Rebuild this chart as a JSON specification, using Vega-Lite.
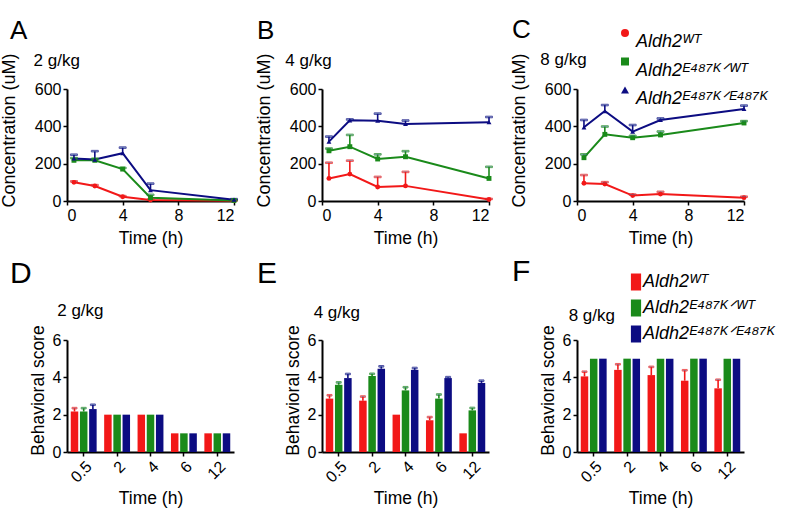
{
  "$schema": "https://vega.github.io/schema/vega-lite/v6.json",
  "autosize": "none",
  "padding": {"left": 67, "top": 89, "right": 729, "bottom": 421},
  "background": "white",
  "config": {
    "font": "Liberation Sans",
    "view": {"stroke": null},
    "axis": {"domainColor": "black", "domainWidth": 2, "tickColor": "black", "tickWidth": 1.5, "tickSize": 4, "labelFontSize": 16, "labelColor": "black", "titleFontSize": 17.5, "titleFontWeight": "normal", "titleColor": "black", "grid": false, "labelPadding": 2},
    "title": {"anchor": "start", "frame": "group", "fontSize": 26, "fontWeight": "normal", "subtitleFontSize": 17, "color": "black", "subtitleColor": "black"},
    "legend": {"labelFontSize": 18, "labelFontStyle": "italic", "labelColor": "black", "labelLimit": 400, "title": null}
  },
  "datasets": {
    "conc": [
      {"dose": 2, "time": 0.5, "geno": "Aldh2ᵂᵀ", "mean": 100, "hi": 105},
      {"dose": 2, "time": 2, "geno": "Aldh2ᵂᵀ", "mean": 80, "hi": 85},
      {"dose": 2, "time": 4, "geno": "Aldh2ᵂᵀ", "mean": 23, "hi": 26},
      {"dose": 2, "time": 6, "geno": "Aldh2ᵂᵀ", "mean": 5, "hi": 7},
      {"dose": 2, "time": 12, "geno": "Aldh2ᵂᵀ", "mean": 2, "hi": 3},
      {"dose": 2, "time": 0.5, "geno": "Aldh2ᴱ⁴⁸⁷ᴷᐟᵂᵀ", "mean": 218, "hi": 230},
      {"dose": 2, "time": 2, "geno": "Aldh2ᴱ⁴⁸⁷ᴷᐟᵂᵀ", "mean": 218, "hi": 226},
      {"dose": 2, "time": 4, "geno": "Aldh2ᴱ⁴⁸⁷ᴷᐟᵂᵀ", "mean": 171, "hi": 177},
      {"dose": 2, "time": 6, "geno": "Aldh2ᴱ⁴⁸⁷ᴷᐟᵂᵀ", "mean": 18, "hi": 33},
      {"dose": 2, "time": 12, "geno": "Aldh2ᴱ⁴⁸⁷ᴷᐟᵂᵀ", "mean": 3, "hi": 4},
      {"dose": 2, "time": 0.5, "geno": "Aldh2ᴱ⁴⁸⁷ᴷᐟᴱ⁴⁸⁷ᴷ", "mean": 228, "hi": 248},
      {"dose": 2, "time": 2, "geno": "Aldh2ᴱ⁴⁸⁷ᴷᐟᴱ⁴⁸⁷ᴷ", "mean": 222, "hi": 267},
      {"dose": 2, "time": 4, "geno": "Aldh2ᴱ⁴⁸⁷ᴷᐟᴱ⁴⁸⁷ᴷ", "mean": 256, "hi": 286},
      {"dose": 2, "time": 6, "geno": "Aldh2ᴱ⁴⁸⁷ᴷᐟᴱ⁴⁸⁷ᴷ", "mean": 58, "hi": 93},
      {"dose": 2, "time": 12, "geno": "Aldh2ᴱ⁴⁸⁷ᴷᐟᴱ⁴⁸⁷ᴷ", "mean": 7, "hi": 10},
      {"dose": 4, "time": 0.5, "geno": "Aldh2ᵂᵀ", "mean": 121, "hi": 205},
      {"dose": 4, "time": 2, "geno": "Aldh2ᵂᵀ", "mean": 144, "hi": 216},
      {"dose": 4, "time": 4, "geno": "Aldh2ᵂᵀ", "mean": 75, "hi": 129},
      {"dose": 4, "time": 6, "geno": "Aldh2ᵂᵀ", "mean": 81, "hi": 156},
      {"dose": 4, "time": 12, "geno": "Aldh2ᵂᵀ", "mean": 8, "hi": 11},
      {"dose": 4, "time": 0.5, "geno": "Aldh2ᴱ⁴⁸⁷ᴷᐟᵂᵀ", "mean": 269, "hi": 281},
      {"dose": 4, "time": 2, "geno": "Aldh2ᴱ⁴⁸⁷ᴷᐟᵂᵀ", "mean": 291, "hi": 354},
      {"dose": 4, "time": 4, "geno": "Aldh2ᴱ⁴⁸⁷ᴷᐟᵂᵀ", "mean": 225, "hi": 250},
      {"dose": 4, "time": 6, "geno": "Aldh2ᴱ⁴⁸⁷ᴷᐟᵂᵀ", "mean": 237, "hi": 267},
      {"dose": 4, "time": 12, "geno": "Aldh2ᴱ⁴⁸⁷ᴷᐟᵂᵀ", "mean": 121, "hi": 183},
      {"dose": 4, "time": 0.5, "geno": "Aldh2ᴱ⁴⁸⁷ᴷᐟᴱ⁴⁸⁷ᴷ", "mean": 318, "hi": 345},
      {"dose": 4, "time": 2, "geno": "Aldh2ᴱ⁴⁸⁷ᴷᐟᴱ⁴⁸⁷ᴷ", "mean": 432, "hi": 437},
      {"dose": 4, "time": 4, "geno": "Aldh2ᴱ⁴⁸⁷ᴷᐟᴱ⁴⁸⁷ᴷ", "mean": 430, "hi": 468},
      {"dose": 4, "time": 6, "geno": "Aldh2ᴱ⁴⁸⁷ᴷᐟᴱ⁴⁸⁷ᴷ", "mean": 413, "hi": 431},
      {"dose": 4, "time": 12, "geno": "Aldh2ᴱ⁴⁸⁷ᴷᐟᴱ⁴⁸⁷ᴷ", "mean": 422, "hi": 450},
      {"dose": 8, "time": 0.5, "geno": "Aldh2ᵂᵀ", "mean": 95, "hi": 139},
      {"dose": 8, "time": 2, "geno": "Aldh2ᵂᵀ", "mean": 91, "hi": 101},
      {"dose": 8, "time": 4, "geno": "Aldh2ᵂᵀ", "mean": 29, "hi": 34},
      {"dose": 8, "time": 6, "geno": "Aldh2ᵂᵀ", "mean": 37, "hi": 49},
      {"dose": 8, "time": 12, "geno": "Aldh2ᵂᵀ", "mean": 18, "hi": 23},
      {"dose": 8, "time": 0.5, "geno": "Aldh2ᴱ⁴⁸⁷ᴷᐟᵂᵀ", "mean": 232, "hi": 250},
      {"dose": 8, "time": 2, "geno": "Aldh2ᴱ⁴⁸⁷ᴷᐟᵂᵀ", "mean": 357, "hi": 399},
      {"dose": 8, "time": 4, "geno": "Aldh2ᴱ⁴⁸⁷ᴷᐟᵂᵀ", "mean": 339, "hi": 349},
      {"dose": 8, "time": 6, "geno": "Aldh2ᴱ⁴⁸⁷ᴷᐟᵂᵀ", "mean": 354, "hi": 372},
      {"dose": 8, "time": 12, "geno": "Aldh2ᴱ⁴⁸⁷ᴷᐟᵂᵀ", "mean": 418, "hi": 428},
      {"dose": 8, "time": 0.5, "geno": "Aldh2ᴱ⁴⁸⁷ᴷᐟᴱ⁴⁸⁷ᴷ", "mean": 395, "hi": 434},
      {"dose": 8, "time": 2, "geno": "Aldh2ᴱ⁴⁸⁷ᴷᐟᴱ⁴⁸⁷ᴷ", "mean": 482, "hi": 514},
      {"dose": 8, "time": 4, "geno": "Aldh2ᴱ⁴⁸⁷ᴷᐟᴱ⁴⁸⁷ᴷ", "mean": 372, "hi": 407},
      {"dose": 8, "time": 6, "geno": "Aldh2ᴱ⁴⁸⁷ᴷᐟᴱ⁴⁸⁷ᴷ", "mean": 434, "hi": 442},
      {"dose": 8, "time": 12, "geno": "Aldh2ᴱ⁴⁸⁷ᴷᐟᴱ⁴⁸⁷ᴷ", "mean": 493, "hi": 511}
    ],
    "beh": [
      {"dose": 2, "time": "0.5", "geno": "Aldh2ᵂᵀ", "mean": 2.17, "hi": 2.35},
      {"dose": 2, "time": "2", "geno": "Aldh2ᵂᵀ", "mean": 2, "hi": 2},
      {"dose": 2, "time": "4", "geno": "Aldh2ᵂᵀ", "mean": 2, "hi": 2},
      {"dose": 2, "time": "6", "geno": "Aldh2ᵂᵀ", "mean": 1, "hi": 1},
      {"dose": 2, "time": "12", "geno": "Aldh2ᵂᵀ", "mean": 1, "hi": 1},
      {"dose": 2, "time": "0.5", "geno": "Aldh2ᴱ⁴⁸⁷ᴷᐟᵂᵀ", "mean": 2.17, "hi": 2.35},
      {"dose": 2, "time": "2", "geno": "Aldh2ᴱ⁴⁸⁷ᴷᐟᵂᵀ", "mean": 2, "hi": 2},
      {"dose": 2, "time": "4", "geno": "Aldh2ᴱ⁴⁸⁷ᴷᐟᵂᵀ", "mean": 2, "hi": 2},
      {"dose": 2, "time": "6", "geno": "Aldh2ᴱ⁴⁸⁷ᴷᐟᵂᵀ", "mean": 1, "hi": 1},
      {"dose": 2, "time": "12", "geno": "Aldh2ᴱ⁴⁸⁷ᴷᐟᵂᵀ", "mean": 1, "hi": 1},
      {"dose": 2, "time": "0.5", "geno": "Aldh2ᴱ⁴⁸⁷ᴷᐟᴱ⁴⁸⁷ᴷ", "mean": 2.3, "hi": 2.53},
      {"dose": 2, "time": "2", "geno": "Aldh2ᴱ⁴⁸⁷ᴷᐟᴱ⁴⁸⁷ᴷ", "mean": 2, "hi": 2},
      {"dose": 2, "time": "4", "geno": "Aldh2ᴱ⁴⁸⁷ᴷᐟᴱ⁴⁸⁷ᴷ", "mean": 2, "hi": 2},
      {"dose": 2, "time": "6", "geno": "Aldh2ᴱ⁴⁸⁷ᴷᐟᴱ⁴⁸⁷ᴷ", "mean": 1, "hi": 1},
      {"dose": 2, "time": "12", "geno": "Aldh2ᴱ⁴⁸⁷ᴷᐟᴱ⁴⁸⁷ᴷ", "mean": 1, "hi": 1},
      {"dose": 4, "time": "0.5", "geno": "Aldh2ᵂᵀ", "mean": 2.86, "hi": 3.04},
      {"dose": 4, "time": "2", "geno": "Aldh2ᵂᵀ", "mean": 2.75, "hi": 2.97},
      {"dose": 4, "time": "4", "geno": "Aldh2ᵂᵀ", "mean": 2, "hi": 2},
      {"dose": 4, "time": "6", "geno": "Aldh2ᵂᵀ", "mean": 1.7, "hi": 1.87},
      {"dose": 4, "time": "12", "geno": "Aldh2ᵂᵀ", "mean": 1, "hi": 1},
      {"dose": 4, "time": "0.5", "geno": "Aldh2ᴱ⁴⁸⁷ᴷᐟᵂᵀ", "mean": 3.6, "hi": 3.73},
      {"dose": 4, "time": "2", "geno": "Aldh2ᴱ⁴⁸⁷ᴷᐟᵂᵀ", "mean": 4.07, "hi": 4.19},
      {"dose": 4, "time": "4", "geno": "Aldh2ᴱ⁴⁸⁷ᴷᐟᵂᵀ", "mean": 3.3, "hi": 3.47},
      {"dose": 4, "time": "6", "geno": "Aldh2ᴱ⁴⁸⁷ᴷᐟᵂᵀ", "mean": 2.86, "hi": 3.08},
      {"dose": 4, "time": "12", "geno": "Aldh2ᴱ⁴⁸⁷ᴷᐟᵂᵀ", "mean": 2.23, "hi": 2.36},
      {"dose": 4, "time": "0.5", "geno": "Aldh2ᴱ⁴⁸⁷ᴷᐟᴱ⁴⁸⁷ᴷ", "mean": 3.96, "hi": 4.18},
      {"dose": 4, "time": "2", "geno": "Aldh2ᴱ⁴⁸⁷ᴷᐟᴱ⁴⁸⁷ᴷ", "mean": 4.46, "hi": 4.59},
      {"dose": 4, "time": "4", "geno": "Aldh2ᴱ⁴⁸⁷ᴷᐟᴱ⁴⁸⁷ᴷ", "mean": 4.4, "hi": 4.5},
      {"dose": 4, "time": "6", "geno": "Aldh2ᴱ⁴⁸⁷ᴷᐟᴱ⁴⁸⁷ᴷ", "mean": 3.96, "hi": 4.01},
      {"dose": 4, "time": "12", "geno": "Aldh2ᴱ⁴⁸⁷ᴷᐟᴱ⁴⁸⁷ᴷ", "mean": 3.7, "hi": 3.82},
      {"dose": 8, "time": "0.5", "geno": "Aldh2ᵂᵀ", "mean": 4.05, "hi": 4.3},
      {"dose": 8, "time": "2", "geno": "Aldh2ᵂᵀ", "mean": 4.4, "hi": 4.7},
      {"dose": 8, "time": "4", "geno": "Aldh2ᵂᵀ", "mean": 4.12, "hi": 4.56},
      {"dose": 8, "time": "6", "geno": "Aldh2ᵂᵀ", "mean": 3.82, "hi": 4.38},
      {"dose": 8, "time": "12", "geno": "Aldh2ᵂᵀ", "mean": 3.41, "hi": 3.87},
      {"dose": 8, "time": "0.5", "geno": "Aldh2ᴱ⁴⁸⁷ᴷᐟᵂᵀ", "mean": 5, "hi": 5},
      {"dose": 8, "time": "2", "geno": "Aldh2ᴱ⁴⁸⁷ᴷᐟᵂᵀ", "mean": 5, "hi": 5},
      {"dose": 8, "time": "4", "geno": "Aldh2ᴱ⁴⁸⁷ᴷᐟᵂᵀ", "mean": 5, "hi": 5},
      {"dose": 8, "time": "6", "geno": "Aldh2ᴱ⁴⁸⁷ᴷᐟᵂᵀ", "mean": 5, "hi": 5},
      {"dose": 8, "time": "12", "geno": "Aldh2ᴱ⁴⁸⁷ᴷᐟᵂᵀ", "mean": 5, "hi": 5},
      {"dose": 8, "time": "0.5", "geno": "Aldh2ᴱ⁴⁸⁷ᴷᐟᴱ⁴⁸⁷ᴷ", "mean": 5, "hi": 5},
      {"dose": 8, "time": "2", "geno": "Aldh2ᴱ⁴⁸⁷ᴷᐟᴱ⁴⁸⁷ᴷ", "mean": 5, "hi": 5},
      {"dose": 8, "time": "4", "geno": "Aldh2ᴱ⁴⁸⁷ᴷᐟᴱ⁴⁸⁷ᴷ", "mean": 5, "hi": 5},
      {"dose": 8, "time": "6", "geno": "Aldh2ᴱ⁴⁸⁷ᴷᐟᴱ⁴⁸⁷ᴷ", "mean": 5, "hi": 5},
      {"dose": 8, "time": "12", "geno": "Aldh2ᴱ⁴⁸⁷ᴷᐟᴱ⁴⁸⁷ᴷ", "mean": 5, "hi": 5}
    ]
  },
  "columns": 3,
  "spacing": {"row": 139, "column": 88},
  "bounds": "flush",
  "resolve": {"scale": {"color": "independent", "stroke": "independent", "shape": "independent"}},
  "concat": [
    {
      "width": 167, "height": 112,
      "title": {"text": "A", "subtitle": "\u200b\u00a0\u00a0\u00a0\u00a0\u00a02 g/kg", "dx": -57, "dy": 20, "offset": 4, "subtitlePadding": 8.6},
      "data": {"name": "conc"},
      "transform": [{"filter": "datum.dose == 2"}],
      "encoding": {
        "x": {"field": "time", "type": "quantitative", "title": "Time (h)", "scale": {"domain": [0, 12], "nice": false}, "axis": {"values": [0, 4, 8, 12], "titlePadding": 6}},
        "y": {"field": "mean", "type": "quantitative", "title": "Concentration (uM)", "scale": {"domain": [0, 600]}, "axis": {"values": [0, 200, 400, 600], "titlePadding": 16, "titleFontSize": 18, "titleY": 41}}
      },
      "layer": [
        {"mark": {"type": "line", "strokeWidth": 2}, "encoding": {"stroke": {"field": "geno", "type": "nominal", "legend": null, "scale": {"domain": ["Aldh2ᵂᵀ", "Aldh2ᴱ⁴⁸⁷ᴷᐟᵂᵀ", "Aldh2ᴱ⁴⁸⁷ᴷᐟᴱ⁴⁸⁷ᴷ"], "range": ["#f21818", "#1a8a1a", "#0c0c82"]}}}},
        {"transform": [{"filter": "datum.hi > datum.mean"}], "mark": {"type": "rule", "strokeWidth": 1.6}, "encoding": {"y2": {"field": "hi"}, "stroke": {"field": "geno", "type": "nominal", "legend": null, "scale": {"domain": ["Aldh2ᵂᵀ", "Aldh2ᴱ⁴⁸⁷ᴷᐟᵂᵀ", "Aldh2ᴱ⁴⁸⁷ᴷᐟᴱ⁴⁸⁷ᴷ"], "range": ["#f21818", "#1a8a1a", "#0c0c82"]}}}},
        {"transform": [{"filter": "datum.hi > datum.mean"}], "mark": {"type": "tick", "orient": "horizontal", "size": 7, "thickness": 1.6}, "encoding": {"y": {"field": "hi", "type": "quantitative", "title": "Concentration (uM)"}, "stroke": {"field": "geno", "type": "nominal", "legend": null, "scale": {"domain": ["Aldh2ᵂᵀ", "Aldh2ᴱ⁴⁸⁷ᴷᐟᵂᵀ", "Aldh2ᴱ⁴⁸⁷ᴷᐟᴱ⁴⁸⁷ᴷ"], "range": ["#f21818", "#1a8a1a", "#0c0c82"]}}}},
        {"mark": {"type": "point", "filled": true, "size": 24, "opacity": 1}, "encoding": {
          "color": {"field": "geno", "type": "nominal", "legend": null, "scale": {"domain": ["Aldh2ᵂᵀ", "Aldh2ᴱ⁴⁸⁷ᴷᐟᵂᵀ", "Aldh2ᴱ⁴⁸⁷ᴷᐟᴱ⁴⁸⁷ᴷ"], "range": ["#f21818", "#1a8a1a", "#0c0c82"]}},
          "shape": {"field": "geno", "type": "nominal", "legend": null, "scale": {"domain": ["Aldh2ᵂᵀ", "Aldh2ᴱ⁴⁸⁷ᴷᐟᵂᵀ", "Aldh2ᴱ⁴⁸⁷ᴷᐟᴱ⁴⁸⁷ᴷ"], "range": ["circle", "square", "triangle-up"]}}}}
      ]
    },
    {
      "width": 167, "height": 112,
      "title": {"text": "B", "subtitle": "\u200b\u00a0\u00a0\u00a0\u00a0\u00a0\u00a04 g/kg", "dx": -65, "dy": 20, "offset": 4, "subtitlePadding": 8.6},
      "data": {"name": "conc"},
      "transform": [{"filter": "datum.dose == 4"}],
      "encoding": {
        "x": {"field": "time", "type": "quantitative", "title": "Time (h)", "scale": {"domain": [0, 12], "nice": false}, "axis": {"values": [0, 4, 8, 12], "titlePadding": 6}},
        "y": {"field": "mean", "type": "quantitative", "title": "Concentration (uM)", "scale": {"domain": [0, 600]}, "axis": {"values": [0, 200, 400, 600], "titlePadding": 16, "titleFontSize": 18, "titleY": 41}}
      },
      "layer": [
        {"mark": {"type": "line", "strokeWidth": 2}, "encoding": {"stroke": {"field": "geno", "type": "nominal", "legend": null, "scale": {"domain": ["Aldh2ᵂᵀ", "Aldh2ᴱ⁴⁸⁷ᴷᐟᵂᵀ", "Aldh2ᴱ⁴⁸⁷ᴷᐟᴱ⁴⁸⁷ᴷ"], "range": ["#f21818", "#1a8a1a", "#0c0c82"]}}}},
        {"transform": [{"filter": "datum.hi > datum.mean"}], "mark": {"type": "rule", "strokeWidth": 1.6}, "encoding": {"y2": {"field": "hi"}, "stroke": {"field": "geno", "type": "nominal", "legend": null, "scale": {"domain": ["Aldh2ᵂᵀ", "Aldh2ᴱ⁴⁸⁷ᴷᐟᵂᵀ", "Aldh2ᴱ⁴⁸⁷ᴷᐟᴱ⁴⁸⁷ᴷ"], "range": ["#f21818", "#1a8a1a", "#0c0c82"]}}}},
        {"transform": [{"filter": "datum.hi > datum.mean"}], "mark": {"type": "tick", "orient": "horizontal", "size": 7, "thickness": 1.6}, "encoding": {"y": {"field": "hi", "type": "quantitative", "title": "Concentration (uM)"}, "stroke": {"field": "geno", "type": "nominal", "legend": null, "scale": {"domain": ["Aldh2ᵂᵀ", "Aldh2ᴱ⁴⁸⁷ᴷᐟᵂᵀ", "Aldh2ᴱ⁴⁸⁷ᴷᐟᴱ⁴⁸⁷ᴷ"], "range": ["#f21818", "#1a8a1a", "#0c0c82"]}}}},
        {"mark": {"type": "point", "filled": true, "size": 24, "opacity": 1}, "encoding": {
          "color": {"field": "geno", "type": "nominal", "legend": null, "scale": {"domain": ["Aldh2ᵂᵀ", "Aldh2ᴱ⁴⁸⁷ᴷᐟᵂᵀ", "Aldh2ᴱ⁴⁸⁷ᴷᐟᴱ⁴⁸⁷ᴷ"], "range": ["#f21818", "#1a8a1a", "#0c0c82"]}},
          "shape": {"field": "geno", "type": "nominal", "legend": null, "scale": {"domain": ["Aldh2ᵂᵀ", "Aldh2ᴱ⁴⁸⁷ᴷᐟᵂᵀ", "Aldh2ᴱ⁴⁸⁷ᴷᐟᴱ⁴⁸⁷ᴷ"], "range": ["circle", "square", "triangle-up"]}}}}
      ]
    },
    {
      "width": 167, "height": 112,
      "title": {"text": "C", "subtitle": "\u200b\u00a0\u00a0\u00a0\u00a0\u00a0\u00a08 g/kg", "dx": -65, "dy": 47.5, "offset": 4, "subtitlePadding": 8.6},
      "data": {"name": "conc"},
      "transform": [{"filter": "datum.dose == 8"}],
      "encoding": {
        "x": {"field": "time", "type": "quantitative", "title": "Time (h)", "scale": {"domain": [0, 12], "nice": false}, "axis": {"values": [0, 4, 8, 12], "titlePadding": 6}},
        "y": {"field": "mean", "type": "quantitative", "title": "Concentration (uM)", "scale": {"domain": [0, 600]}, "axis": {"values": [0, 200, 400, 600], "titlePadding": 16, "titleFontSize": 18, "titleY": 41}}
      },
      "layer": [
        {"mark": {"type": "point", "filled": true, "size": 24, "opacity": 1}, "encoding": {
          "color": {"field": "geno", "type": "nominal", "scale": {"domain": ["Aldh2ᵂᵀ", "Aldh2ᴱ⁴⁸⁷ᴷᐟᵂᵀ", "Aldh2ᴱ⁴⁸⁷ᴷᐟᴱ⁴⁸⁷ᴷ"], "range": ["#f21818", "#1a8a1a", "#0c0c82"]},
            "legend": {"orient": "none", "legendX": 39, "legendY": -65, "symbolSize": 64, "symbolStrokeWidth": 0, "rowPadding": 1.5, "labelOffset": 2, "labelBaseline": "top"}},
          "shape": {"field": "geno", "type": "nominal", "legend": null, "scale": {"domain": ["Aldh2ᵂᵀ", "Aldh2ᴱ⁴⁸⁷ᴷᐟᵂᵀ", "Aldh2ᴱ⁴⁸⁷ᴷᐟᴱ⁴⁸⁷ᴷ"], "range": ["circle", "square", "triangle-up"]}}}},
        {"mark": {"type": "line", "strokeWidth": 2}, "encoding": {"stroke": {"field": "geno", "type": "nominal", "legend": null, "scale": {"domain": ["Aldh2ᵂᵀ", "Aldh2ᴱ⁴⁸⁷ᴷᐟᵂᵀ", "Aldh2ᴱ⁴⁸⁷ᴷᐟᴱ⁴⁸⁷ᴷ"], "range": ["#f21818", "#1a8a1a", "#0c0c82"]}}}},
        {"transform": [{"filter": "datum.hi > datum.mean"}], "mark": {"type": "rule", "strokeWidth": 1.6}, "encoding": {"y2": {"field": "hi"}, "stroke": {"field": "geno", "type": "nominal", "legend": null, "scale": {"domain": ["Aldh2ᵂᵀ", "Aldh2ᴱ⁴⁸⁷ᴷᐟᵂᵀ", "Aldh2ᴱ⁴⁸⁷ᴷᐟᴱ⁴⁸⁷ᴷ"], "range": ["#f21818", "#1a8a1a", "#0c0c82"]}}}},
        {"transform": [{"filter": "datum.hi > datum.mean"}], "mark": {"type": "tick", "orient": "horizontal", "size": 7, "thickness": 1.6}, "encoding": {"y": {"field": "hi", "type": "quantitative", "title": "Concentration (uM)"}, "stroke": {"field": "geno", "type": "nominal", "legend": null, "scale": {"domain": ["Aldh2ᵂᵀ", "Aldh2ᴱ⁴⁸⁷ᴷᐟᵂᵀ", "Aldh2ᴱ⁴⁸⁷ᴷᐟᴱ⁴⁸⁷ᴷ"], "range": ["#f21818", "#1a8a1a", "#0c0c82"]}}}}
      ]
    },
    {
      "width": 167, "height": 112,
      "title": {"text": "D", "subtitle": "\u200b\u00a0\u00a0\u00a0\u00a0\u00a0\u00a0\u00a0\u00a0\u00a0\u00a02 g/kg", "dx": -57, "dy": 1.8, "offset": 7.5, "subtitlePadding": 13.8, "fontSize": 30},
      "data": {"name": "beh"},
      "transform": [{"filter": "datum.dose == 2"}],
      "encoding": {
        "x": {"field": "time", "type": "ordinal", "title": "Time (h)", "scale": {"domain": ["0.5", "2", "4", "6", "12"], "paddingInner": 0.225, "paddingOuter": 0.1125}, "axis": {"labelAngle": -45, "titlePadding": 4}},
        "xOffset": {"field": "geno", "type": "nominal", "scale": {"domain": ["Aldh2ᵂᵀ", "Aldh2ᴱ⁴⁸⁷ᴷᐟᵂᵀ", "Aldh2ᴱ⁴⁸⁷ᴷᐟᴱ⁴⁸⁷ᴷ"], "paddingInner": 0.185, "paddingOuter": 0}},
        "y": {"field": "mean", "type": "quantitative", "title": "Behavioral score", "scale": {"domain": [0, 6]}, "axis": {"values": [0, 2, 4, 6], "titlePadding": 5, "titleY": 50}}
      },
      "layer": [
        {"mark": {"type": "bar"}, "encoding": {"color": {"field": "geno", "type": "nominal", "legend": null, "scale": {"domain": ["Aldh2ᵂᵀ", "Aldh2ᴱ⁴⁸⁷ᴷᐟᵂᵀ", "Aldh2ᴱ⁴⁸⁷ᴷᐟᴱ⁴⁸⁷ᴷ"], "range": ["#f21818", "#1a8a1a", "#0c0c82"]}}}},
        {"transform": [{"filter": "datum.hi > datum.mean"}], "mark": {"type": "rule", "strokeWidth": 1.6}, "encoding": {"y2": {"field": "hi"}, "stroke": {"field": "geno", "type": "nominal", "legend": null, "scale": {"domain": ["Aldh2ᵂᵀ", "Aldh2ᴱ⁴⁸⁷ᴷᐟᵂᵀ", "Aldh2ᴱ⁴⁸⁷ᴷᐟᴱ⁴⁸⁷ᴷ"], "range": ["#f21818", "#1a8a1a", "#0c0c82"]}}}},
        {"transform": [{"filter": "datum.hi > datum.mean"}], "mark": {"type": "tick", "orient": "horizontal", "size": 5, "thickness": 1.6}, "encoding": {"y": {"field": "hi", "type": "quantitative", "title": "Behavioral score"}, "stroke": {"field": "geno", "type": "nominal", "legend": null, "scale": {"domain": ["Aldh2ᵂᵀ", "Aldh2ᴱ⁴⁸⁷ᴷᐟᵂᵀ", "Aldh2ᴱ⁴⁸⁷ᴷᐟᴱ⁴⁸⁷ᴷ"], "range": ["#f21818", "#1a8a1a", "#0c0c82"]}}}}
      ]
    },
    {
      "width": 167, "height": 112,
      "title": {"text": "E", "subtitle": "\u200b\u00a0\u00a0\u00a0\u00a0\u00a0\u00a0\u00a0\u00a0\u00a0\u00a0\u00a0\u00a04 g/kg", "dx": -65, "dy": 1.8, "offset": 5.5, "subtitlePadding": 15.8, "fontSize": 30},
      "data": {"name": "beh"},
      "transform": [{"filter": "datum.dose == 4"}],
      "encoding": {
        "x": {"field": "time", "type": "ordinal", "title": "Time (h)", "scale": {"domain": ["0.5", "2", "4", "6", "12"], "paddingInner": 0.225, "paddingOuter": 0.1125}, "axis": {"labelAngle": -45, "titlePadding": 4}},
        "xOffset": {"field": "geno", "type": "nominal", "scale": {"domain": ["Aldh2ᵂᵀ", "Aldh2ᴱ⁴⁸⁷ᴷᐟᵂᵀ", "Aldh2ᴱ⁴⁸⁷ᴷᐟᴱ⁴⁸⁷ᴷ"], "paddingInner": 0.185, "paddingOuter": 0}},
        "y": {"field": "mean", "type": "quantitative", "title": "Behavioral score", "scale": {"domain": [0, 6]}, "axis": {"values": [0, 2, 4, 6], "titlePadding": 5, "titleY": 50}}
      },
      "layer": [
        {"mark": {"type": "bar"}, "encoding": {"color": {"field": "geno", "type": "nominal", "legend": null, "scale": {"domain": ["Aldh2ᵂᵀ", "Aldh2ᴱ⁴⁸⁷ᴷᐟᵂᵀ", "Aldh2ᴱ⁴⁸⁷ᴷᐟᴱ⁴⁸⁷ᴷ"], "range": ["#f21818", "#1a8a1a", "#0c0c82"]}}}},
        {"transform": [{"filter": "datum.hi > datum.mean"}], "mark": {"type": "rule", "strokeWidth": 1.6}, "encoding": {"y2": {"field": "hi"}, "stroke": {"field": "geno", "type": "nominal", "legend": null, "scale": {"domain": ["Aldh2ᵂᵀ", "Aldh2ᴱ⁴⁸⁷ᴷᐟᵂᵀ", "Aldh2ᴱ⁴⁸⁷ᴷᐟᴱ⁴⁸⁷ᴷ"], "range": ["#f21818", "#1a8a1a", "#0c0c82"]}}}},
        {"transform": [{"filter": "datum.hi > datum.mean"}], "mark": {"type": "tick", "orient": "horizontal", "size": 5, "thickness": 1.6}, "encoding": {"y": {"field": "hi", "type": "quantitative", "title": "Behavioral score"}, "stroke": {"field": "geno", "type": "nominal", "legend": null, "scale": {"domain": ["Aldh2ᵂᵀ", "Aldh2ᴱ⁴⁸⁷ᴷᐟᵂᵀ", "Aldh2ᴱ⁴⁸⁷ᴷᐟᴱ⁴⁸⁷ᴷ"], "range": ["#f21818", "#1a8a1a", "#0c0c82"]}}}}
      ]
    },
    {
      "width": 167, "height": 112,
      "title": {"text": "F", "subtitle": "\u200b\u00a0\u00a0\u00a0\u00a0\u00a0\u00a0\u00a0\u00a0\u00a0\u00a0\u00a0\u00a08 g/kg", "dx": -65, "dy": 53.6, "offset": 2.5, "subtitlePadding": 20.8, "fontSize": 30},
      "data": {"name": "beh"},
      "transform": [{"filter": "datum.dose == 8"}],
      "encoding": {
        "x": {"field": "time", "type": "ordinal", "title": "Time (h)", "scale": {"domain": ["0.5", "2", "4", "6", "12"], "paddingInner": 0.225, "paddingOuter": 0.1125}, "axis": {"labelAngle": -45, "titlePadding": 4}},
        "xOffset": {"field": "geno", "type": "nominal", "scale": {"domain": ["Aldh2ᵂᵀ", "Aldh2ᴱ⁴⁸⁷ᴷᐟᵂᵀ", "Aldh2ᴱ⁴⁸⁷ᴷᐟᴱ⁴⁸⁷ᴷ"], "paddingInner": 0.185, "paddingOuter": 0}},
        "y": {"field": "mean", "type": "quantitative", "title": "Behavioral score", "scale": {"domain": [0, 6]}, "axis": {"values": [0, 2, 4, 6], "titlePadding": 5, "titleY": 50}}
      },
      "layer": [
        {"mark": {"type": "bar"}, "encoding": {"color": {"field": "geno", "type": "nominal", "scale": {"domain": ["Aldh2ᵂᵀ", "Aldh2ᴱ⁴⁸⁷ᴷᐟᵂᵀ", "Aldh2ᴱ⁴⁸⁷ᴷᐟᴱ⁴⁸⁷ᴷ"], "range": ["#f21818", "#1a8a1a", "#0c0c82"]},
          "legend": {"orient": "none", "legendX": 50, "legendY": -67, "symbolType": "M-0.6,-1H0.6V1H-0.6Z", "symbolSize": 289, "symbolStrokeWidth": 0, "rowPadding": 8, "labelOffset": -2, "labelBaseline": "middle"}}}},
        {"transform": [{"filter": "datum.hi > datum.mean"}], "mark": {"type": "rule", "strokeWidth": 1.6}, "encoding": {"y2": {"field": "hi"}, "stroke": {"field": "geno", "type": "nominal", "legend": null, "scale": {"domain": ["Aldh2ᵂᵀ", "Aldh2ᴱ⁴⁸⁷ᴷᐟᵂᵀ", "Aldh2ᴱ⁴⁸⁷ᴷᐟᴱ⁴⁸⁷ᴷ"], "range": ["#f21818", "#1a8a1a", "#0c0c82"]}}}},
        {"transform": [{"filter": "datum.hi > datum.mean"}], "mark": {"type": "tick", "orient": "horizontal", "size": 5, "thickness": 1.6}, "encoding": {"y": {"field": "hi", "type": "quantitative", "title": "Behavioral score"}, "stroke": {"field": "geno", "type": "nominal", "legend": null, "scale": {"domain": ["Aldh2ᵂᵀ", "Aldh2ᴱ⁴⁸⁷ᴷᐟᵂᵀ", "Aldh2ᴱ⁴⁸⁷ᴷᐟᴱ⁴⁸⁷ᴷ"], "range": ["#f21818", "#1a8a1a", "#0c0c82"]}}}}
      ]
    }
  ]
}
